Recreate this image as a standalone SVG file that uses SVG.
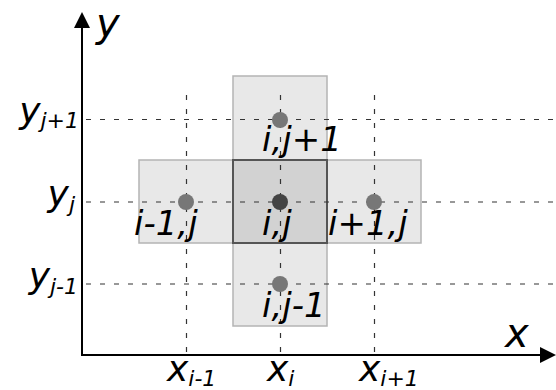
<svg xmlns="http://www.w3.org/2000/svg" width="556" height="390" viewBox="0 0 556 390">
<style>
text{font-family:"DejaVu Sans","Liberation Sans",sans-serif;font-style:italic;fill:#000}
.lbl{font-size:34px}
.ax{font-size:36px}
.sub{font-size:22px}
.big{font-size:40px}
.cell{fill:#e8e8e8;stroke:#b4b4b4;stroke-width:1.5}
.center{fill:#d2d2d2;stroke:#555;stroke-width:2}
.grid{stroke:#333;stroke-width:1.2;stroke-dasharray:5,9;fill:none}
.dot{fill:#777}
.dotc{fill:#444}
.axis{stroke:#000;stroke-width:2;fill:none}
</style>
<defs>
<marker id="arr" viewBox="0 0 16 16" refX="0" refY="8" markerWidth="16" markerHeight="16" markerUnits="userSpaceOnUse" orient="auto">
<path d="M0,0 L16,8 L0,16 Z" fill="#000"/>
</marker>
</defs>
<g id="cell-ij1-rect"><rect class="cell" x="233" y="76" width="94" height="250"/></g>
<g id="cell-row-rect"><rect class="cell" x="139" y="160" width="282" height="83"/></g>
<g id="cell-ij-rect"><rect class="center" x="233" y="160" width="94" height="83"/></g>
<g id="connectors">
<g id="grid">
<line class="grid" x1="86" y1="119.5" x2="556" y2="119.5"/>
<line class="grid" x1="86" y1="202" x2="556" y2="202"/>
<line class="grid" x1="86" y1="284" x2="556" y2="284"/>
<line class="grid" x1="186.5" y1="95" x2="186.5" y2="354"/>
<line class="grid" x1="280.5" y1="95" x2="280.5" y2="354"/>
<line class="grid" x1="374.5" y1="95" x2="374.5" y2="354"/>
</g>
<g id="axes">
<line class="axis" x1="82" y1="355" x2="82" y2="28" marker-end="url(#arr)"/>
<line class="axis" x1="81" y1="355" x2="540" y2="355" marker-end="url(#arr)"/>
</g>
</g>
<g id="node-i-j">
<circle class="dotc" cx="280" cy="202" r="8"/>
<text class="lbl" x="262" y="235">i,j</text>
</g>
<g id="node-i-jp1">
<circle class="dot" cx="280" cy="120" r="8"/>
<text class="lbl" x="262" y="151">i,j+1</text>
</g>
<g id="node-im1-j">
<circle class="dot" cx="186" cy="202" r="8"/>
<text class="lbl" x="134" y="235">i-1,j</text>
</g>
<g id="node-ip1-j">
<circle class="dot" cx="374" cy="202" r="8"/>
<text class="lbl" x="328" y="235">i+1,j</text>
</g>
<g id="node-i-jm1">
<circle class="dot" cx="280" cy="284" r="8"/>
<text class="lbl" x="262" y="317">i,j-1</text>
</g>
<g id="axis-labels">
<text class="big" x="96" y="37">y</text>
<text class="big" x="505" y="347">x</text>
<text class="ax" x="79" y="123" text-anchor="end">y<tspan class="sub" dy="5">j+1</tspan></text>
<text class="ax" x="75" y="206" text-anchor="end">y<tspan class="sub" dy="6">j</tspan></text>
<text class="ax" x="78" y="288" text-anchor="end">y<tspan class="sub" dy="6">j-1</tspan></text>
<text class="ax" x="167" y="381">x<tspan class="sub" dy="5">i-1</tspan></text>
<text class="ax" x="267" y="381">x<tspan class="sub" dy="5">i</tspan></text>
<text class="ax" x="359" y="381">x<tspan class="sub" dy="5">i+1</tspan></text>
</g>
</svg>
